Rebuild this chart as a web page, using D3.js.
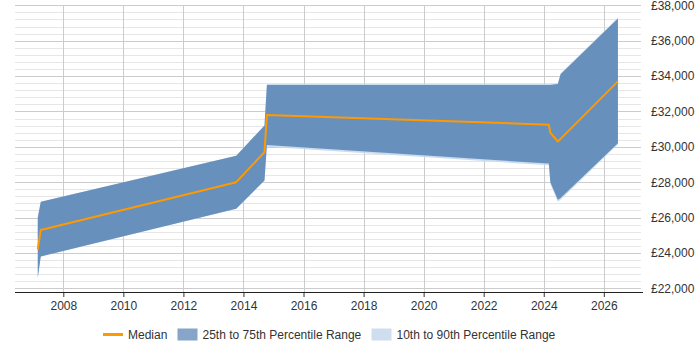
<!DOCTYPE html>
<html><head><meta charset="utf-8">
<script src="https://cdn.jsdelivr.net/npm/d3@7"></script>
<style>body{margin:0;background:#fff}svg{display:block;font-family:"Liberation Sans",Arial,sans-serif}</style>
</head><body><svg id="c" width="700" height="350"></svg>
<script>
const years = [2007.15, 2007.25, 2013.76, 2014.7, 2014.78, 2024.17, 2024.22, 2024.47, 2024.56, 2026.47];
const p10 = [22600, 23800, 26500, 28100, 30000, 28950, 27900, 26900, 27000, 30150];
const p25 = [22600, 23800, 26500, 28100, 30100, 29050, 28000, 27000, 27100, 30200];
const median = [24200, 25300, 28000, 29700, 31800, 31250, 30800, 30300, 30450, 33700];
const p75 = [26000, 26900, 29500, 31200, 33500, 33500, 33500, 33550, 34100, 37250];
const p90 = [26000, 26900, 29500, 31200, 33550, 33550, 33550, 33600, 34150, 37300];
const xTicks = [2008, 2010, 2012, 2014, 2016, 2018, 2020, 2022, 2024, 2026];
const yTicks = [22000, 24000, 26000, 28000, 30000, 32000, 34000, 36000, 38000];
const legendLabels = ["Median", "25th to 75th Percentile Range", "10th to 90th Percentile Range"];

const svg = d3.select("#c");
const L = 15, R = 641, T = 5.3, B = 288.3, AX = 292;
const x = d3.scaleLinear().domain([2008, 2026]).range([63.3, 603.8]);
const y = d3.scaleLinear().domain([22000, 38000]).range([B, T]);
const data = years.map((yr, i) => ({yr, p10: p10[i], p25: p25[i], m: median[i], p75: p75[i], p90: p90[i]}));

// minor grid
const minor = d3.range(22000, 38001, 400).filter(v => v % 2000 !== 0);
svg.append("g").selectAll("line").data(minor).join("line")
  .attr("x1", L).attr("x2", R).attr("y1", d => Math.round(y(d)) + 0.5).attr("y2", d => Math.round(y(d)) + 0.5)
  .attr("stroke", "#e6e6e6").attr("stroke-width", 1);
// major grid
svg.append("g").selectAll("line").data(yTicks).join("line")
  .attr("x1", L).attr("x2", R).attr("y1", d => Math.round(y(d)) + 0.5).attr("y2", d => Math.round(y(d)) + 0.5)
  .attr("stroke", "#cccccc").attr("stroke-width", 1);
// vertical grid
svg.append("g").selectAll("line").data(xTicks).join("line")
  .attr("x1", d => Math.round(x(d)) + 0.5).attr("x2", d => Math.round(x(d)) + 0.5).attr("y1", T).attr("y2", AX)
  .attr("stroke", "#cccccc").attr("stroke-width", 1);

// bands
const a1 = d3.area().x(d => x(d.yr)).y0(d => y(d.p10)).y1(d => y(d.p90));
const a2 = d3.area().x(d => x(d.yr)).y0(d => y(d.p25)).y1(d => y(d.p75));
svg.append("path").datum(data).attr("d", a1).attr("fill", "#c5d8ec").attr("opacity", 0.9);
svg.append("path").datum(data).attr("d", a2).attr("fill", "#4f7db0").attr("opacity", 0.8);
// median
svg.append("path").datum(data).attr("d", d3.line().x(d => x(d.yr)).y(d => y(d.m)))
  .attr("fill", "none").attr("stroke", "#ff9900").attr("stroke-width", 2).attr("stroke-linejoin", "round");

// x axis
const xa = svg.append("g").attr("transform", `translate(0,${AX})`)
  .call(d3.axisBottom(x).tickValues(xTicks).tickFormat(d3.format("d")).tickSize(5).tickPadding(4));
xa.select(".domain").remove();
xa.selectAll(".tick line").attr("stroke", "#333");
xa.selectAll("text").attr("font-size", 12).attr("fill", "#333").attr("font-family", "Liberation Sans, Arial, sans-serif");
svg.append("line").attr("x1", L).attr("x2", R + 2).attr("y1", AX + 0.5).attr("y2", AX + 0.5).attr("stroke", "#222");

// y axis (right)
const ya = svg.append("g").attr("transform", `translate(${R},0)`)
  .call(d3.axisRight(y).tickValues(yTicks).tickFormat(d => "£" + d3.format(",")(d)).tickSize(0).tickPadding(10));
ya.select(".domain").remove();
ya.selectAll("text").attr("font-size", 12).attr("fill", "#333").attr("font-family", "Liberation Sans, Arial, sans-serif");

// legend
const lg = svg.append("g").attr("font-size", 12).attr("fill", "#333");
lg.append("line").attr("x1", 103).attr("x2", 123).attr("y1", 334.5).attr("y2", 334.5).attr("stroke", "#ff9900").attr("stroke-width", 3);
lg.append("text").attr("x", 128).attr("y", 338.5).text(legendLabels[0]).attr("fill", "#333");
lg.append("rect").attr("x", 177.5).attr("y", 328.5).attr("width", 20).attr("height", 12).attr("fill", "#87a5c8");
lg.append("text").attr("x", 202.5).attr("y", 338.5).text(legendLabels[1]).attr("fill", "#333");
lg.append("rect").attr("x", 371.5).attr("y", 328.5).attr("width", 20).attr("height", 12).attr("fill", "#cfdeef");
lg.append("text").attr("x", 396.5).attr("y", 338.5).text(legendLabels[2]).attr("fill", "#333");
</script></body></html>
